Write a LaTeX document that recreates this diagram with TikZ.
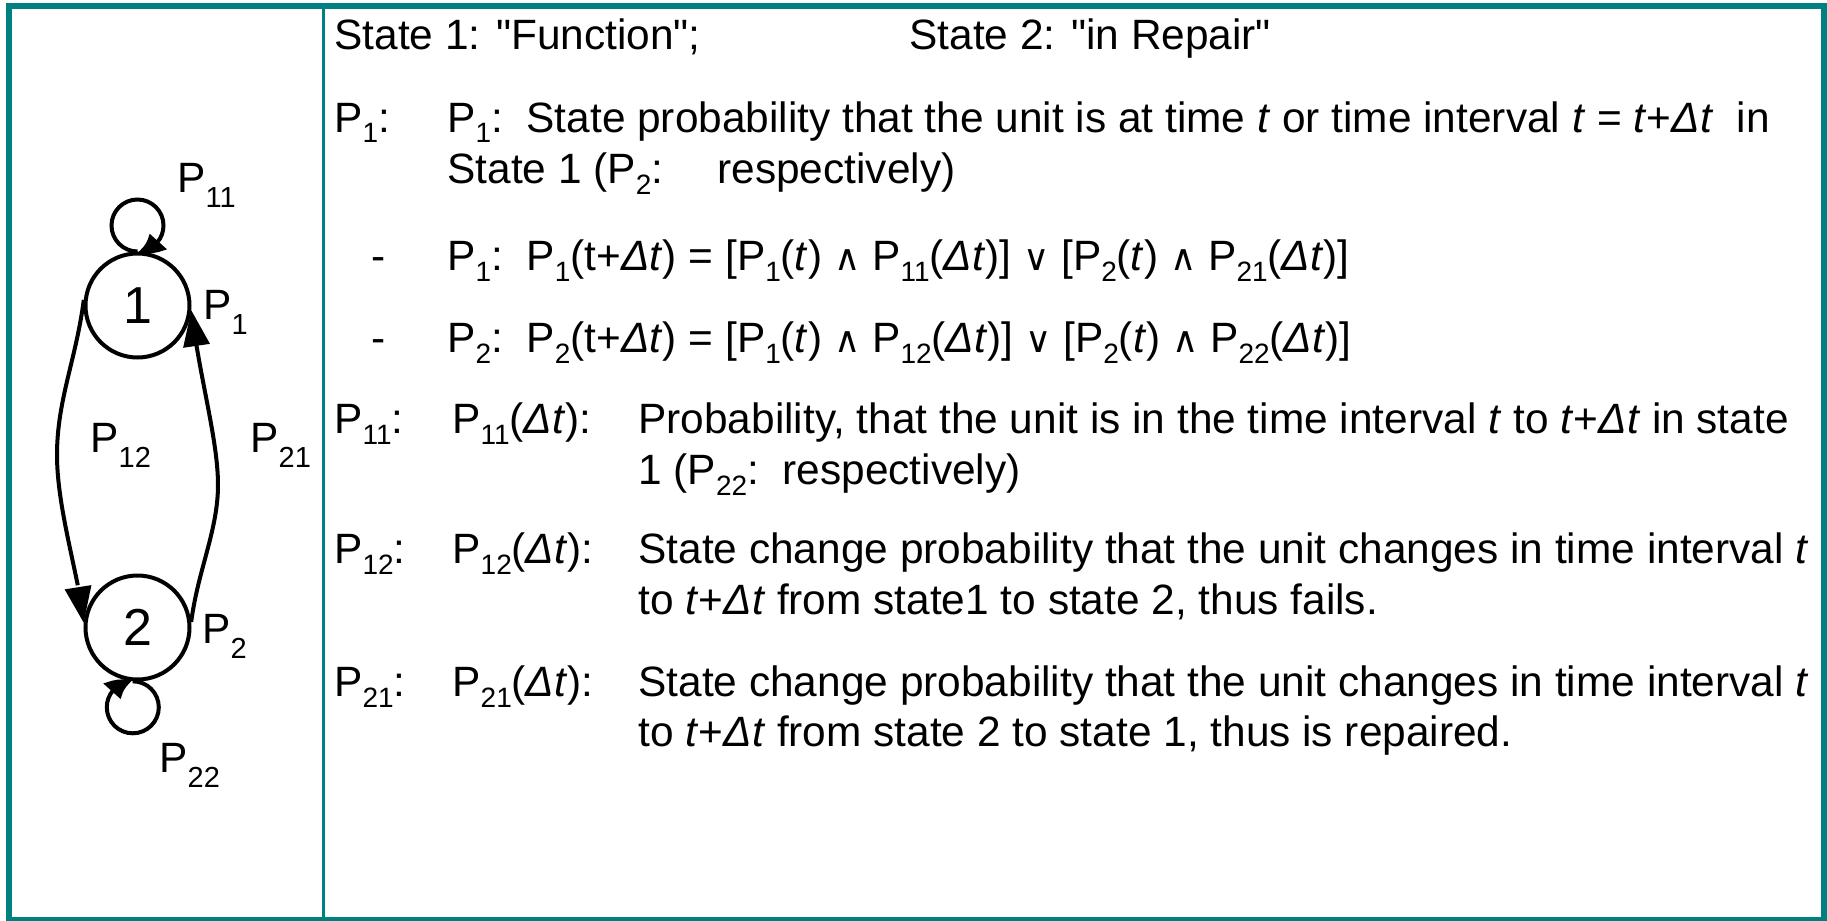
\documentclass[tikz,border=0pt]{standalone}
\usepackage{fontspec}
\setmainfont{Liberation Sans}[Ligatures=TeXOff]
\newfontfamily\symf{DejaVu Sans}
\usetikzlibrary{arrows.meta,bending}
\definecolor{framecol}{RGB}{0,128,128}
\newcommand\sbs[1]{\raisebox{-5.5pt}{\fontsize{14pt}{14pt}\selectfont #1}}
\newcommand\lsb[1]{\raisebox{-7.5pt}{\fontsize{14.5pt}{14.5pt}\selectfont #1}}
\newcommand\andop{{\symf\fontsize{18pt}{18pt}\selectfont ∧}}
\newcommand\orop{{\symf\fontsize{18pt}{18pt}\selectfont ∨}}
\newcommand\mydt{\textit{Δt}}
\newcommand\myt{\textit{t}}
\newcommand\dq{{\char34}}
\begin{document}
\begin{tikzpicture}[x=0.5pt,y=-0.5pt,
  state/.style={circle, draw, line width=2pt, minimum size=52pt, inner sep=0pt, font=\fontsize{26pt}{26pt}\selectfont},
  conn/.style={line width=2pt},
  bigtip/.style={-{Triangle[length=18pt,width=13pt]}},
  looptip/.style={-{Triangle[length=12pt,width=11pt,bend]}},
  txt/.style={anchor=base west, inner sep=0pt, font=\fontsize{21.2pt}{25pt}\selectfont},
]
\useasboundingbox (0,0) rectangle (1827,921);
\fill[white] (0,0) rectangle (1827,921);
% frame
\draw[framecol, line width=3pt] (9,6) rectangle (1824,920);
\draw[framecol, line width=1.5pt] (323.5,6) -- (323.5,920);

% states
\node[state] (n1) at (137.5,305.5) {1};
\node[state] (n2) at (137.5,627.5) {2};

% connectors
\coordinate (m12) at (57,455);
\coordinate (m21) at (218,485);
\draw[conn, bigtip] (n1.174) .. controls (76,360) and (57,400) .. (m12)
   .. controls (57,510) and (80,580) .. (n2.175);
\draw[conn, bigtip] (n2.6) .. controls (198,570) and (218,530) .. (m21)
   .. controls (218,440) and (200,380) .. (n1.-5);
\draw[conn, looptip] (n1.north) arc[start angle=-90, end angle=-450, radius=13pt];
\draw[conn, looptip] (n2.-95) arc[start angle=90, end angle=-270, radius=13pt];

% left labels
\node[txt] (lp11) at (177,192) {P\lsb{11}};
\node[txt] (lp1) at (203,319) {P\lsb{1}};
\node[txt] (lp12) at (90,452) {P\lsb{12}};
\node[txt] (lp21) at (250,452) {P\lsb{21}};
\node[txt] (lp2) at (202,643) {P\lsb{2}};
\node[txt] (lp22) at (159,772) {P\lsb{22}};

% text rows
\node[txt] (r1a) at (334,49) {State 1: \dq Function\dq;};
\node[txt] (r1b) at (909,49) {State 2: \dq in Repair\dq};

\node[txt] (r2a) at (334,132) {P\sbs{1}:};
\node[txt] (r2b) at (447,132) {P\sbs{1}:\ \ State probability that the unit is at time \myt{} or time interval \myt{} = \myt+\mydt\ \ in};
\node[txt] (r3b) at (447,183) {State 1 (P\sbs{2}:};
\node[txt] (r3c) at (717,183) {respectively)};

\node[txt] (r4a) at (371,270) {-};
\node[txt] (r4b) at (447,270) {P\sbs{1}:\ \ P\sbs{1}(t+\mydt) = [P\sbs{1}(\myt) \andop{} P\sbs{11}(\mydt)] \orop{} [P\sbs{2}(\myt) \andop{} P\sbs{21}(\mydt)]};
\node[txt] (r5a) at (371,352) {-};
\node[txt] (r5b) at (447,352) {P\sbs{2}:\ \ P\sbs{2}(t+\mydt) = [P\sbs{1}(\myt) \andop{} P\sbs{12}(\mydt)] \orop{} [P\sbs{2}(\myt) \andop{} P\sbs{22}(\mydt)]};

\node[txt] (r6a) at (334,433) {P\sbs{11}:};
\node[txt] (r6b) at (452,433) {P\sbs{11}(\mydt):};
\node[txt] (r6c) at (638,433) {Probability, that the unit is in the time interval \myt{} to \myt+\mydt{} in state};
\node[txt] (r7c) at (638,484) {1 (P\sbs{22}:\ \ respectively)};

\node[txt] (r8a) at (334,563) {P\sbs{12}:};
\node[txt] (r8b) at (452,563) {P\sbs{12}(\mydt):};
\node[txt] (r8c) at (638,563) {State change probability that the unit changes in time interval \myt};
\node[txt] (r9c) at (638,614) {to \myt+\mydt{} from state1 to state 2, thus fails.};

\node[txt] (r10a) at (334,696) {P\sbs{21}:};
\node[txt] (r10b) at (452,696) {P\sbs{21}(\mydt):};
\node[txt] (r10c) at (638,696) {State change probability that the unit changes in time interval \myt};
\node[txt] (r11c) at (638,746) {to \myt+\mydt{} from state 2 to state 1, thus is repaired.};
\end{tikzpicture}
\end{document}
